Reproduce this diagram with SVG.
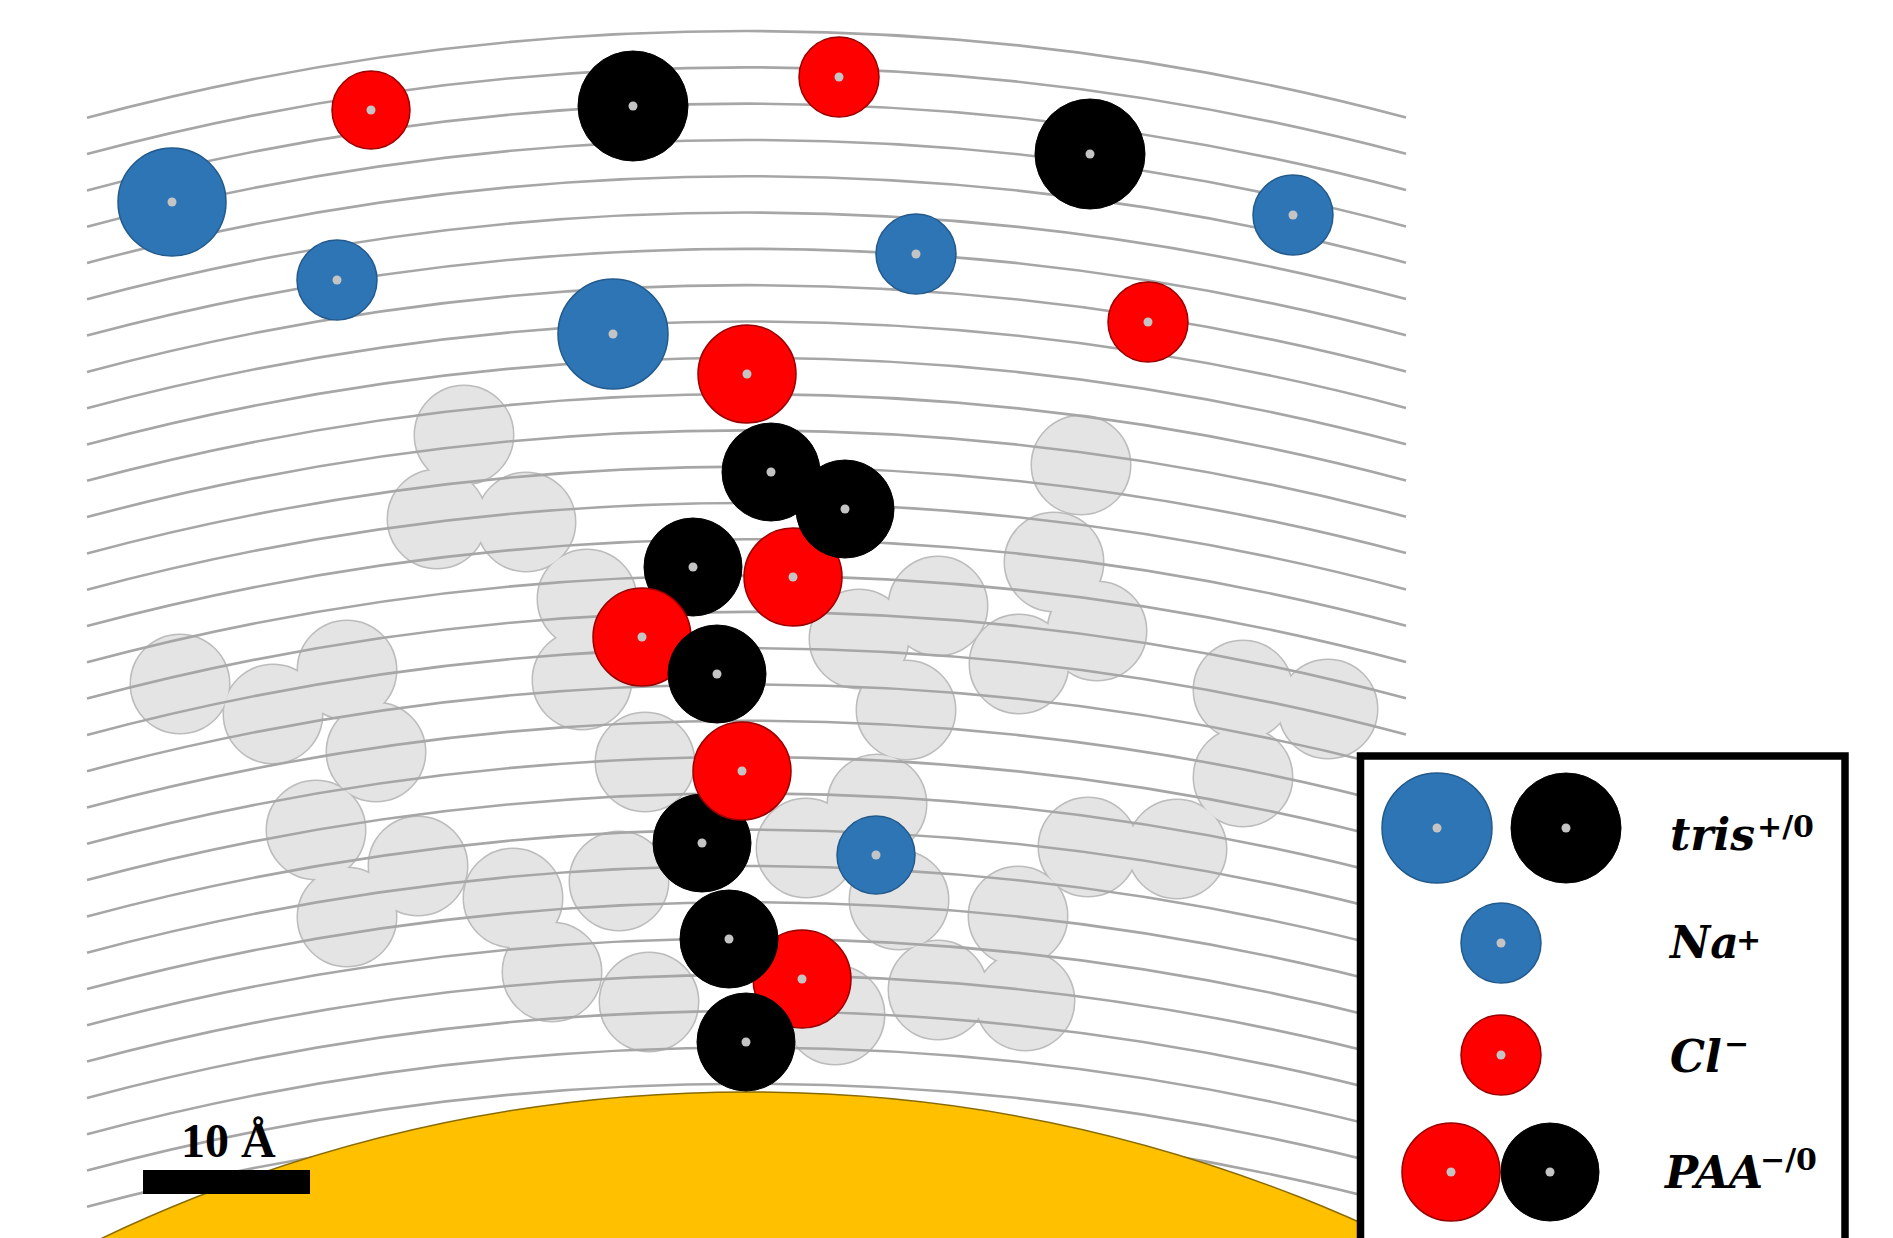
<svg xmlns="http://www.w3.org/2000/svg" xmlns:xlink="http://www.w3.org/1999/xlink" width="1893" height="1238" viewBox="0 0 1893 1238">
  <style>
    .ln { fill: none; stroke: #a6a6a6; stroke-width: 2.6; }
    .blue { fill: #2E75B6; stroke: #235a8c; stroke-width: 1.5; }
    .red { fill: #FF0000; stroke: #9a0000; stroke-width: 1.5; }
    .blk { fill: #000000; stroke: #000000; stroke-width: 1; }
    .dot { fill: #c4c4c4; stroke: none; }
    .bg-outline { fill: none; stroke: #bcbcbc; stroke-width: 3; }
    .bg-fill { fill: #e4e4e4; stroke: none; }
    .lg { font-family: "DejaVu Serif", "Liberation Serif", serif; font-weight: bold; font-style: italic; font-size: 44px; fill: #000; }
    .sup { font-family: "DejaVu Serif", "Liberation Serif", serif; font-weight: bold; font-style: normal; font-size: 30px; }
    .scale { font-family: "Liberation Serif", serif; font-weight: bold; font-size: 48px; fill: #000; }
  </style>
  <defs>
    <!-- one solvation layer; the rest are vertical copies -->
    <path id="layer" class="ln" d="M87 117.8 A2554 2554 0 0 1 1406 117.5"/>
    <!-- beads of the background (faded) polymer chains -->
    <g id="bg-beads">
      <circle cx="464" cy="435" r="49"/>
      <circle cx="437" cy="519" r="49"/>
      <circle cx="526" cy="522" r="49"/>
      <circle cx="180" cy="684" r="49"/>
      <circle cx="273" cy="714" r="49"/>
      <circle cx="347" cy="670" r="49"/>
      <circle cx="376" cy="752" r="49"/>
      <circle cx="316" cy="830" r="49"/>
      <circle cx="347" cy="917" r="49"/>
      <circle cx="418" cy="866" r="49"/>
      <circle cx="513" cy="898" r="49"/>
      <circle cx="619" cy="881" r="49"/>
      <circle cx="552" cy="972" r="49"/>
      <circle cx="649" cy="1002" r="49"/>
      <circle cx="587" cy="599" r="49"/>
      <circle cx="582" cy="680" r="49"/>
      <circle cx="645" cy="762" r="49"/>
      <circle cx="859" cy="639" r="49"/>
      <circle cx="938" cy="606" r="49"/>
      <circle cx="906" cy="710" r="49"/>
      <circle cx="877" cy="804" r="49"/>
      <circle cx="806" cy="848" r="49"/>
      <circle cx="899" cy="900" r="49"/>
      <circle cx="835" cy="1015" r="49"/>
      <circle cx="1081" cy="465" r="49"/>
      <circle cx="1054" cy="562" r="49"/>
      <circle cx="1097" cy="631" r="49"/>
      <circle cx="1019" cy="664" r="49"/>
      <circle cx="1243" cy="690" r="49"/>
      <circle cx="1328" cy="709" r="49"/>
      <circle cx="1243" cy="777" r="49"/>
      <circle cx="1088" cy="847" r="49"/>
      <circle cx="1177" cy="849" r="49"/>
      <circle cx="1018" cy="916" r="49"/>
      <circle cx="1025" cy="1001" r="49"/>
      <circle cx="938" cy="990" r="49"/>
    </g>
  </defs>

  <rect width="1893" height="1238" fill="#ffffff"/>

  <!-- faded background chains: outline first, fill on top so only the union edge shows -->
  <g id="background-chains">
    <use xlink:href="#bg-beads" class="bg-outline"/>
    <use xlink:href="#bg-beads" class="bg-fill"/>
  </g>

  <!-- concentric solvation layers -->
  <g id="layers">
    <use xlink:href="#layer" transform="translate(0,0)"/>
    <use xlink:href="#layer" transform="translate(0,36.3)"/>
    <use xlink:href="#layer" transform="translate(0,72.6)"/>
    <use xlink:href="#layer" transform="translate(0,108.9)"/>
    <use xlink:href="#layer" transform="translate(0,145.2)"/>
    <use xlink:href="#layer" transform="translate(0,181.5)"/>
    <use xlink:href="#layer" transform="translate(0,217.8)"/>
    <use xlink:href="#layer" transform="translate(0,254.1)"/>
    <use xlink:href="#layer" transform="translate(0,290.4)"/>
    <use xlink:href="#layer" transform="translate(0,326.7)"/>
    <use xlink:href="#layer" transform="translate(0,363)"/>
    <use xlink:href="#layer" transform="translate(0,399.3)"/>
    <use xlink:href="#layer" transform="translate(0,435.6)"/>
    <use xlink:href="#layer" transform="translate(0,471.9)"/>
    <use xlink:href="#layer" transform="translate(0,508.2)"/>
    <use xlink:href="#layer" transform="translate(0,544.5)"/>
    <use xlink:href="#layer" transform="translate(0,580.8)"/>
    <use xlink:href="#layer" transform="translate(0,617.1)"/>
    <use xlink:href="#layer" transform="translate(0,653.4)"/>
    <use xlink:href="#layer" transform="translate(0,689.7)"/>
    <use xlink:href="#layer" transform="translate(0,726)"/>
    <use xlink:href="#layer" transform="translate(0,762.3)"/>
    <use xlink:href="#layer" transform="translate(0,798.6)"/>
    <use xlink:href="#layer" transform="translate(0,834.9)"/>
    <use xlink:href="#layer" transform="translate(0,871.2)"/>
    <use xlink:href="#layer" transform="translate(0,907.5)"/>
    <use xlink:href="#layer" transform="translate(0,943.8)"/>
    <use xlink:href="#layer" transform="translate(0,980.1)"/>
    <use xlink:href="#layer" transform="translate(0,1016.4)"/>
    <use xlink:href="#layer" transform="translate(0,1052.7)"/>
    <use xlink:href="#layer" transform="translate(0,1089)"/>
  </g>

  <!-- gold particle surface -->
  <g id="particle">
    <circle cx="748" cy="2592" r="1500" fill="#FFC000" stroke="#8a6b00" stroke-width="1.5"/>
  </g>

  <!-- free ions in solution -->
  <g id="tris-plus-1"><circle class="blue" cx="172" cy="202" r="54"/><circle class="dot" cx="172" cy="202" r="4.5"/></g>
  <g id="cl-1"><circle class="red" cx="371" cy="110" r="39"/><circle class="dot" cx="371" cy="110" r="4.5"/></g>
  <g id="tris-0-1"><circle class="blk" cx="633" cy="106" r="55"/><circle class="dot" cx="633" cy="106" r="4.5"/></g>
  <g id="na-1"><circle class="blue" cx="337" cy="280" r="40"/><circle class="dot" cx="337" cy="280" r="4.5"/></g>
  <g id="tris-plus-2"><circle class="blue" cx="613" cy="334" r="55"/><circle class="dot" cx="613" cy="334" r="4.5"/></g>
  <g id="cl-2"><circle class="red" cx="839" cy="77" r="40"/><circle class="dot" cx="839" cy="77" r="4.5"/></g>
  <g id="tris-0-2"><circle class="blk" cx="1090" cy="154" r="55"/><circle class="dot" cx="1090" cy="154" r="4.5"/></g>
  <g id="na-2"><circle class="blue" cx="1293" cy="215" r="40"/><circle class="dot" cx="1293" cy="215" r="4.5"/></g>
  <g id="na-3"><circle class="blue" cx="916" cy="254" r="40"/><circle class="dot" cx="916" cy="254" r="4.5"/></g>
  <g id="cl-3"><circle class="red" cx="1148" cy="322" r="40"/><circle class="dot" cx="1148" cy="322" r="4.5"/></g>
  <g id="na-4"><circle class="blue" cx="876" cy="855" r="39"/><circle class="dot" cx="876" cy="855" r="4.5"/></g>

  <!-- grafted PAA chain, charged (red) and neutral (black) monomers -->
  <g id="paa-chain">
    <g id="paa-1"><circle class="red" cx="747" cy="374" r="49"/><circle class="dot" cx="747" cy="374" r="4.5"/></g>
    <g id="paa-2"><circle class="blk" cx="771" cy="472" r="49"/><circle class="dot" cx="771" cy="472" r="4.5"/></g>
    <g id="paa-3"><circle class="red" cx="793" cy="577" r="49"/><circle class="dot" cx="793" cy="577" r="4.5"/></g>
    <g id="paa-4"><circle class="blk" cx="845" cy="509" r="49"/><circle class="dot" cx="845" cy="509" r="4.5"/></g>
    <g id="paa-5"><circle class="blk" cx="693" cy="567" r="49"/><circle class="dot" cx="693" cy="567" r="4.5"/></g>
    <g id="paa-6"><circle class="red" cx="642" cy="637" r="49"/><circle class="dot" cx="642" cy="637" r="4.5"/></g>
    <g id="paa-7"><circle class="blk" cx="717" cy="674" r="49"/><circle class="dot" cx="717" cy="674" r="4.5"/></g>
    <g id="paa-8"><circle class="blk" cx="702" cy="843" r="49"/><circle class="dot" cx="702" cy="843" r="4.5"/></g>
    <g id="paa-9"><circle class="red" cx="742" cy="771" r="49"/><circle class="dot" cx="742" cy="771" r="4.5"/></g>
    <g id="paa-10"><circle class="red" cx="802" cy="979" r="49"/><circle class="dot" cx="802" cy="979" r="4.5"/></g>
    <g id="paa-11"><circle class="blk" cx="729" cy="939" r="49"/><circle class="dot" cx="729" cy="939" r="4.5"/></g>
    <g id="paa-12"><circle class="blk" cx="746" cy="1042" r="49"/><circle class="dot" cx="746" cy="1042" r="4.5"/></g>
  </g>

  <!-- scale bar -->
  <g id="scale-bar">
    <rect x="143" y="1170" width="167" height="24" fill="#000"/>
    <text class="scale" x="181" y="1157">10 Å</text>
  </g>

  <!-- legend -->
  <g id="legend">
    <rect x="1360.5" y="756" width="484.5" height="500" fill="#ffffff" stroke="#000" stroke-width="7.5"/>
    <g id="legend-tris">
      <circle class="blue" cx="1437" cy="828" r="55"/><circle class="dot" cx="1437" cy="828" r="4.5"/>
      <circle class="blk" cx="1566" cy="828" r="55"/><circle class="dot" cx="1566" cy="828" r="4.5"/>
      <text class="lg" x="1670" y="850">tris<tspan class="sup" x="1757" y="837">+/0</tspan></text>
    </g>
    <g id="legend-na">
      <circle class="blue" cx="1501" cy="943" r="40"/><circle class="dot" cx="1501" cy="943" r="4.5"/>
      <text class="lg" x="1670" y="958">Na<tspan class="sup" x="1736" y="950">+</tspan></text>
    </g>
    <g id="legend-cl">
      <circle class="red" cx="1501" cy="1055" r="40"/><circle class="dot" cx="1501" cy="1055" r="4.5"/>
      <text class="lg" x="1670" y="1072">Cl<tspan class="sup" x="1724" y="1054">−</tspan></text>
    </g>
    <g id="legend-paa">
      <circle class="red" cx="1451" cy="1172" r="49"/><circle class="dot" cx="1451" cy="1172" r="4.5"/>
      <circle class="blk" cx="1550" cy="1172" r="49"/><circle class="dot" cx="1550" cy="1172" r="4.5"/>
      <text class="lg" x="1665" y="1188">PAA<tspan class="sup" x="1760" y="1170">−/0</tspan></text>
    </g>
  </g>
</svg>
